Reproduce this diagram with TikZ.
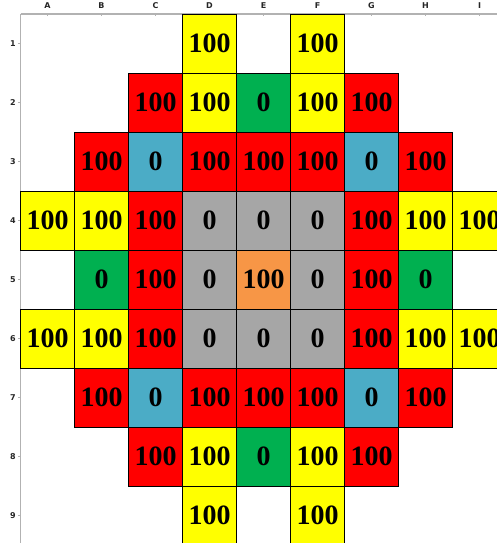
\documentclass[tikz,border=0pt]{standalone}
\usepackage{fontspec}
\setmainfont{Liberation Serif}
\newfontfamily\headfont{DejaVu Sans}

\definecolor{cellyellow}{RGB}{255,255,0}
\definecolor{cellred}{RGB}{255,0,0}
\definecolor{cellgreen}{RGB}{0,176,80}
\definecolor{cellblue}{RGB}{75,172,198}
\definecolor{cellgrey}{RGB}{166,166,166}
\definecolor{cellorange}{RGB}{247,150,70}

\tikzset{
    cell/.style={draw=black, line width=0.8pt, minimum width=54pt, minimum height=59pt,
        inner sep=0pt, font=\fontsize{28}{28}\selectfont\bfseries},
    head/.style={font=\headfont\bfseries\fontsize{8}{8}\selectfont, text=black!85},
    frame/.style={draw=black!30, line width=1.2pt},
}

\begin{document}
\begin{tikzpicture}[x=1pt, y=-1pt]
    \useasboundingbox (0,0) rectangle (497,543);
    \coordinate (corner) at (20.5,14);
    \coordinate (topend) at (497,14);
    \coordinate (leftend) at (20.5,543);
    \draw[frame] (corner) -- (topend);
    \draw[frame] (corner) -- (leftend);

    % column letters and row numbers
    \foreach \c [count=\i] in {A,...,I} {
        \node[head] (col-\c) at (54*\i-6.5, 6) {\c};
        \draw[frame, line width=0.6pt] (col-\c |- corner) -- ++(0,2.5);
    }
    \foreach \r in {1,...,9} {
        \node[head] (row-\r) at (13, 59*\r-15.5) {\r};
        \draw[frame, line width=0.6pt] (corner |- row-\r) -- ++(-2.5,0);
    }

    % cells, rows mirrored about row 5
    \foreach \r in {1,9}
        \foreach \i/\col/\val in {4/cellyellow/100, 6/cellyellow/100}
            \node[cell, fill=\col] (cell-\i-\r) at (54*\i-6.5, 59*\r-15.5) {\val};
    \foreach \r in {2,8}
        \foreach \i/\col/\val in {3/cellred/100, 4/cellyellow/100, 5/cellgreen/0,
                6/cellyellow/100, 7/cellred/100}
            \node[cell, fill=\col] (cell-\i-\r) at (54*\i-6.5, 59*\r-15.5) {\val};
    \foreach \r in {3,7}
        \foreach \i/\col/\val in {2/cellred/100, 3/cellblue/0, 4/cellred/100, 5/cellred/100,
                6/cellred/100, 7/cellblue/0, 8/cellred/100}
            \node[cell, fill=\col] (cell-\i-\r) at (54*\i-6.5, 59*\r-15.5) {\val};
    \foreach \r in {4,6}
        \foreach \i/\col/\val in {1/cellyellow/100, 2/cellyellow/100, 3/cellred/100,
                4/cellgrey/0, 5/cellgrey/0, 6/cellgrey/0, 7/cellred/100,
                8/cellyellow/100, 9/cellyellow/100}
            \node[cell, fill=\col] (cell-\i-\r) at (54*\i-6.5, 59*\r-15.5) {\val};
    \foreach \i/\col/\val in {2/cellgreen/0, 3/cellred/100, 4/cellgrey/0, 5/cellorange/100,
            6/cellgrey/0, 7/cellred/100, 8/cellgreen/0}
        \node[cell, fill=\col] (cell-\i-5) at (54*\i-6.5, 279.5) {\val};
\end{tikzpicture}
\end{document}
